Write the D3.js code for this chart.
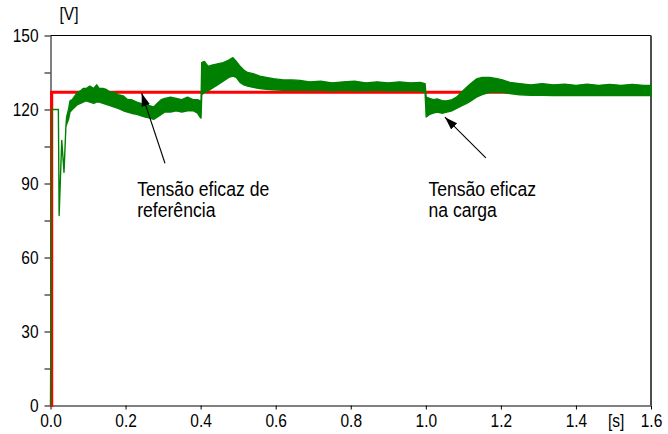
<!DOCTYPE html>
<html>
<head>
<meta charset="utf-8">
<script src="https://cdn.jsdelivr.net/npm/d3@7"></script>
<style>
	body { margin: 0; background: #fff; }
	text { font-family: Arial, "Liberation Sans", sans-serif; fill: #000; }
</style>
</head>
<body>
<script>
// Reference RMS voltage (red) and load RMS voltage (green) vs time.

// reference: time [s], volts
refT = [0, 0.003, 0.003, 1.6];
refV = [0, 0, 127, 127];

loadT = [0, 0.004, 0.021, 0.023, 0.030, 0.036, 0.041, 0.043, 0.048, 0.052,
	0.058, 0.065, 0.072, 0.080, 0.087, 0.095, 0.105, 0.115, 0.123, 0.130,
	0.140, 0.150, 0.160, 0.170, 0.180, 0.194, 0.205, 0.215, 0.230, 0.240,
	0.250, 0.265, 0.275, 0.285, 0.295, 0.305, 0.320, 0.335, 0.350, 0.365,
	0.380, 0.392, 0.398, 0.401, 0.403, 0.410, 0.420, 0.430, 0.445, 0.460,
	0.475, 0.486, 0.495, 0.505, 0.515, 0.525, 0.540, 0.558, 0.575, 0.594,
	0.620, 0.645, 0.665, 0.690, 0.720, 0.750, 0.780, 0.810, 0.840, 0.870,
	0.900, 0.930, 0.960, 0.985, 0.998, 1.001, 1.010, 1.020, 1.030, 1.045,
	1.056, 1.070, 1.082, 1.095, 1.109, 1.120, 1.135, 1.150, 1.170, 1.190,
	1.204, 1.224, 1.250, 1.280, 1.310, 1.340, 1.370, 1.400, 1.430, 1.460,
	1.490, 1.520, 1.550, 1.580, 1.600];
loadLo = [0, 120, 120, 77, 107.5, 94.5, 113, 114, 116, 119,
	120, 121, 122, 122.5, 123, 123.5, 123, 122.5, 123, 123,
	122.5, 122, 121.5, 121, 120.5, 119.5, 119, 118.5, 118, 117.5,
	117, 116.5, 116, 117, 118, 119, 119, 119.5, 119, 119.5,
	119.5, 118.5, 117, 116.5, 126, 127, 127.5, 128.5, 130, 131.5,
	133, 133.5, 133, 131, 130, 129.5, 129, 128.5, 128.2, 128,
	127.8, 127.8, 127.8, 127.8, 127.8, 127.6, 127.8, 127.6, 127.6, 127.8,
	127.6, 127.6, 127.6, 127.5, 127, 117, 118, 118.5, 119, 118.5,
	119, 119.5, 120.5, 121.5, 122.5, 123.5, 125, 126, 127, 127,
	127, 126.5, 126, 125.8, 125.8, 125.7, 125.8, 125.7, 125.8, 125.7,
	125.8, 125.7, 125.8, 125.7, 125.7];
loadHi = [0, 120, 120, 77, 107.5, 94.5, 113, 117, 120, 123.5,
	124, 125.5, 127, 127.5, 128.5, 128.5, 129.5, 128.5, 130, 128.5,
	128.5, 128, 127, 127, 126, 125.5, 124, 124, 123, 122.5,
	122, 121.5, 121, 122.5, 124, 124.5, 125, 124.5, 124, 125,
	124, 124, 123.5, 122, 139, 139.5, 137.5, 138, 138.5, 139,
	140, 141, 139.5, 137.5, 136, 135, 134.5, 133.5, 133, 132.5,
	132, 132, 131.8, 131.2, 131.5, 130.8, 131.2, 131.5, 130.8, 131.2,
	130.8, 131.2, 130.8, 131, 130.5, 125, 124.5, 124, 124.3, 123.5,
	123.5, 124, 125, 127, 129, 130.5, 132.4, 133, 133, 132.5,
	132, 131, 130.5, 130, 130.5, 130, 130.3, 129.8, 130.3, 129.8,
	130.2, 129.8, 130.2, 129.8, 129.8];

yTicks = d3.range(0, 151, 15);
xTicks = d3.range(0, 1.61, 0.2);

// annotations: label lines, first baseline (t, V), arrow tail and tip (t, V)
noteLines = [["Tensão eficaz de", "referência"], ["Tensão eficaz", "na carga"]];
noteAt = [[0.231, 85], [1.007, 85]];
arrowFrom = [[0.305, 98.2], [1.16, 100.4]];
arrowTo = [[0.243, 126.6], [1.051, 116.9]];

width = 668, height = 434;
svg = d3.select('body').append('svg')
	.attr('width', width)
	.attr('height', height);

xScale = d3.scaleLinear().domain([0, 1.6]).range([50.5, 651]);
yScale = d3.scaleLinear().domain([0, 150]).range([405.5, 35.5]);
stretch = 'scale(1,1.15)';

// axes
yAxis = d3.axisLeft(yScale)
	.tickValues(yTicks)
	.tickSize(6)
	.tickSizeOuter(0)
	.tickFormat(d => d % 30 == 0 ? d : '');
gy = svg.append('g')
	.attr('transform', 'translate(' + xScale(0) + ',0)')
	.call(yAxis);
gy.selectAll('text')
	.attr('x', -12)
	.attr('dy', '0.358em')
	.attr('transform', stretch)
	.style('font-size', '15.5px');

xAxis = d3.axisBottom(xScale)
	.tickValues(xTicks)
	.tickSize(4)
	.tickSizeOuter(0)
	.tickFormat(d3.format('.1f'));
gx = svg.append('g')
	.attr('transform', 'translate(0,' + yScale(0) + ')')
	.call(xAxis);
gx.selectAll('text')
	.attr('y', 18.4)
	.attr('dy', 0)
	.attr('transform', stretch)
	.style('font-size', '15.5px');
svg.selectAll('.domain').attr('stroke', '#000');
svg.selectAll('.tick line').attr('stroke', '#000');
svg.selectAll('.tick text').attr('fill', '#000').attr('font-family', null);

// frame top and right
svg.append('line')
	.attr('x1', xScale(0)).attr('x2', xScale(1.6))
	.attr('y1', yScale(150)).attr('y2', yScale(150))
	.attr('stroke', '#000');
svg.append('line')
	.attr('x1', xScale(1.6)).attr('x2', xScale(1.6))
	.attr('y1', yScale(150)).attr('y2', yScale(0))
	.attr('stroke', '#4d4d4d')
	.attr('stroke-width', 2);

// units
svg.append('text')
	.attr('transform', 'translate(' + (xScale(0) + 18.5) + ',' + (yScale(150) - 15.5) + ') ' + stretch)
	.attr('text-anchor', 'middle')
	.style('font-size', '15.5px')
	.text('[V]');
svg.append('text')
	.attr('transform', 'translate(' + xScale(1.507) + ',' + (yScale(0) + 21.2) + ') ' + stretch)
	.attr('text-anchor', 'middle')
	.style('font-size', '15.5px')
	.text('[s]');

// reference line
refLine = d3.line()
	.x(d => xScale(d[0]))
	.y(d => yScale(d[1]));
svg.append('path')
	.attr('d', refLine(d3.zip(refT, refV)))
	.attr('fill', 'none')
	.attr('stroke', '#ff0000')
	.attr('stroke-width', 3.2);

// load voltage band
loadArea = d3.area()
	.x(d => xScale(d[0]))
	.y0(d => yScale(d[1]))
	.y1(d => yScale(d[2]));
svg.append('path')
	.attr('d', loadArea(d3.zip(loadT, loadLo, loadHi)))
	.attr('fill', '#008000')
	.attr('stroke', '#008000')
	.attr('stroke-width', 1.4)
	.attr('stroke-linejoin', 'round');

// arrows and notes
svg.append('defs').append('marker')
	.attr('id', 'head')
	.attr('viewBox', '0 0 12 8')
	.attr('refX', 12).attr('refY', 4)
	.attr('markerWidth', 13).attr('markerHeight', 9)
	.attr('markerUnits', 'userSpaceOnUse')
	.attr('orient', 'auto')
	.append('path')
	.attr('d', 'M0,0L12,4L0,8Z')
	.attr('fill', '#000');

d3.range(noteLines.length).forEach(function(i) {
	svg.append('line')
		.attr('x1', xScale(arrowFrom[i][0])).attr('y1', yScale(arrowFrom[i][1]))
		.attr('x2', xScale(arrowTo[i][0])).attr('y2', yScale(arrowTo[i][1]))
		.attr('stroke', '#000')
		.attr('stroke-width', 1.1)
		.attr('marker-end', 'url(#head)');
	noteLines[i].forEach(function(s, j) {
		svg.append('text')
			.attr('transform', 'translate(' + xScale(noteAt[i][0]) + ',' + (yScale(noteAt[i][1]) + j * 21.5) + ') ' + stretch)
			.style('font-size', '17.6px')
			.text(s);
	});
});
</script>
</body>
</html>
